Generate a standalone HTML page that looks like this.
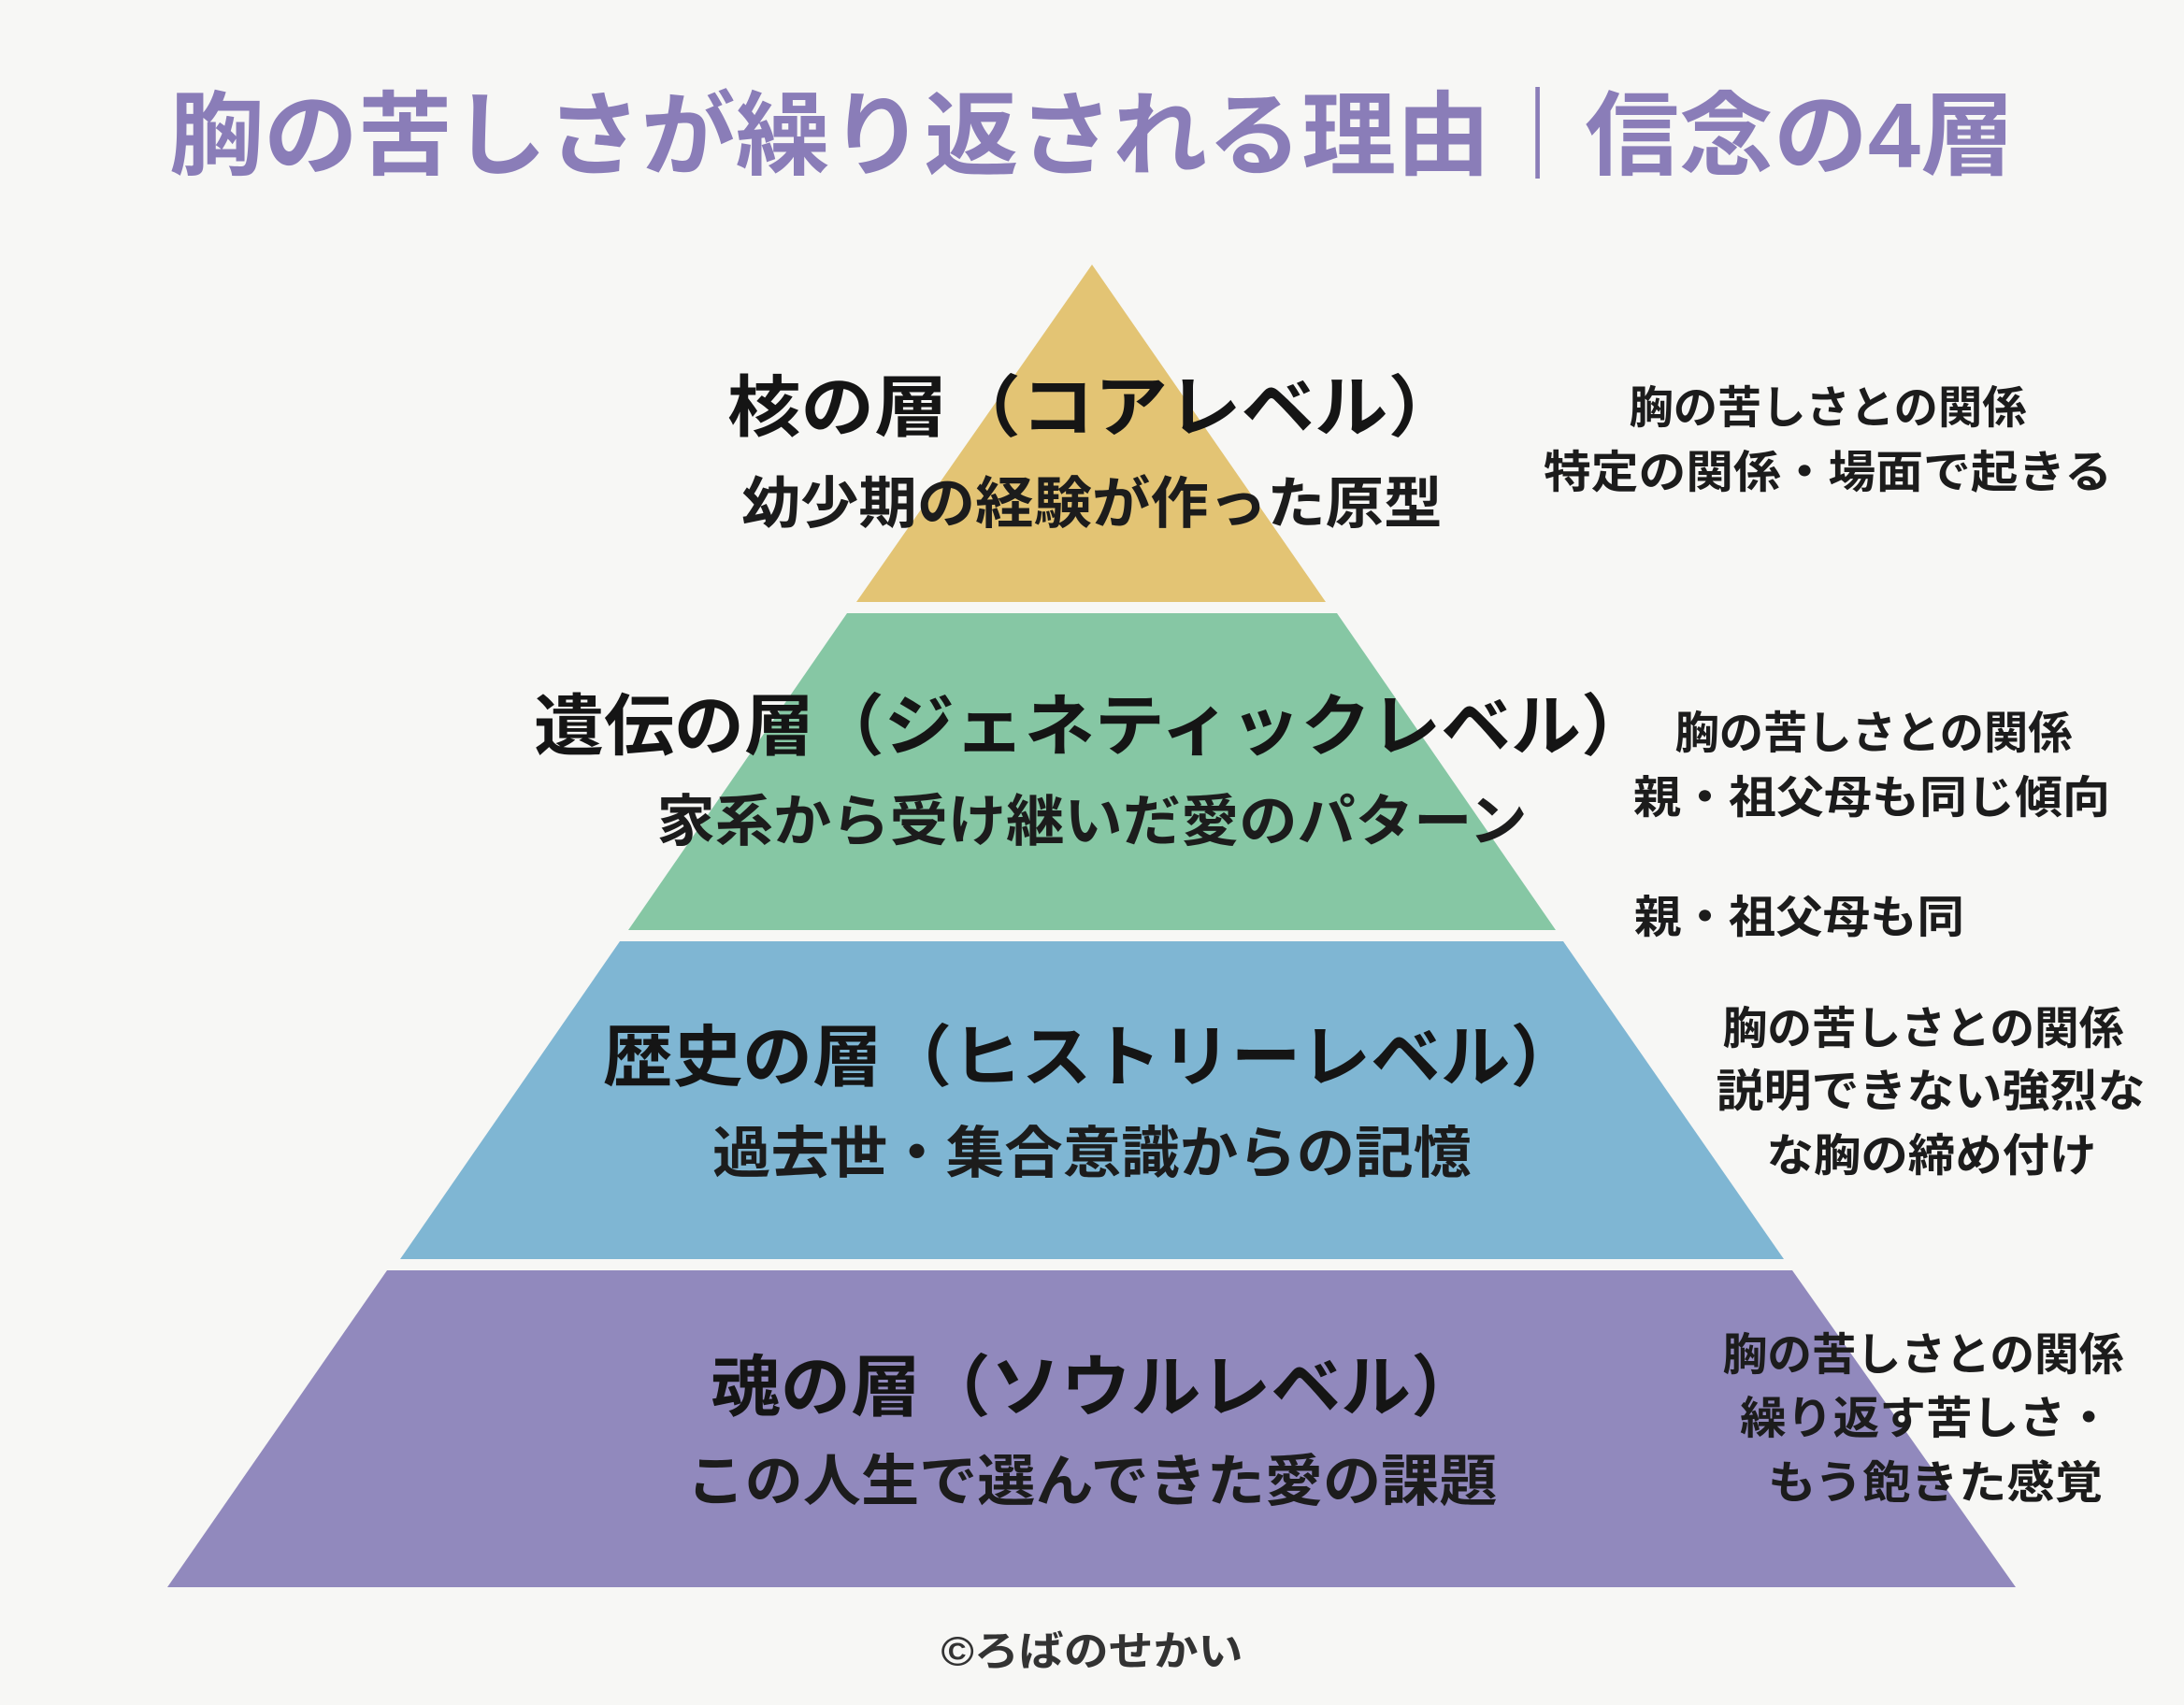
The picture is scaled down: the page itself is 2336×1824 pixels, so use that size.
<!DOCTYPE html>
<html><head><meta charset="utf-8"><style>
html,body{margin:0;padding:0;background:#f7f7f5;}
svg{display:block;}
text{font-family:"Liberation Sans","Noto Sans CJK JP",sans-serif;font-weight:bold;dominant-baseline:central;}
.h{fill:#151515;font-size:72px;}
.s{fill:#1c1c1c;font-size:60px;}
.r{fill:#1c1c1c;font-size:48px;}
</style></head><body>
<svg width="2336" height="1824" viewBox="0 0 2336 1824" xmlns="http://www.w3.org/2000/svg">
<rect width="2336" height="1824" fill="#f7f7f5"/>
<text x="1168" y="145" text-anchor="middle" fill="#8a7db8" style="font-size:98px" textLength="1974" lengthAdjust="spacingAndGlyphs">胸の苦しさが繰り返される理由｜信念の4層</text>
<polygon points="1168,283 1418,644 916,644" fill="#e3c474"/>
<polygon points="906,656 1430,656 1664,995 672,995" fill="#86c7a4"/>
<polygon points="663,1007 1672,1007 1908,1347 428,1347" fill="#7fb6d3"/>
<polygon points="414,1359 1917,1359 2156,1698 179,1698" fill="#9189bd"/>

<text class="h" x="778" y="437" textLength="785" lengthAdjust="spacingAndGlyphs">核の層（コアレベル）</text>
<text class="s" x="1168" y="539" text-anchor="middle" textLength="749" lengthAdjust="spacingAndGlyphs">幼少期の経験が作った原型</text>
<text class="r" x="1955" y="437" text-anchor="middle" textLength="425" lengthAdjust="spacingAndGlyphs">胸の苦しさとの関係</text>
<text class="r" x="1955" y="506" text-anchor="middle" textLength="608" lengthAdjust="spacingAndGlyphs">特定の関係・場面で起きる</text>

<text class="h" x="571" y="778" textLength="1195" lengthAdjust="spacingAndGlyphs">遺伝の層（ジェネティックレベル）</text>
<text class="s" x="1168" y="879" text-anchor="middle" textLength="931" lengthAdjust="spacingAndGlyphs">家系から受け継いだ愛のパターン</text>
<text class="r" x="2004" y="785" text-anchor="middle" textLength="425" lengthAdjust="spacingAndGlyphs">胸の苦しさとの関係</text>
<text class="r" x="2002" y="854" text-anchor="middle" textLength="510" lengthAdjust="spacingAndGlyphs">親・祖父母も同じ傾向</text>
<text class="r" x="1748" y="982" textLength="353" lengthAdjust="spacingAndGlyphs">親・祖父母も同</text>

<text class="h" x="645" y="1132" textLength="1045" lengthAdjust="spacingAndGlyphs">歴史の層（ヒストリーレベル）</text>
<text class="s" x="1168" y="1234" text-anchor="middle" textLength="812" lengthAdjust="spacingAndGlyphs">過去世・集合意識からの記憶</text>
<text class="r" x="2057" y="1101" text-anchor="middle" textLength="429" lengthAdjust="spacingAndGlyphs">胸の苦しさとの関係</text>
<text class="r" x="2065" y="1168" text-anchor="middle" textLength="459" lengthAdjust="spacingAndGlyphs">説明できない強烈な</text>
<text class="r" x="2066" y="1237" text-anchor="middle" textLength="353" lengthAdjust="spacingAndGlyphs">な胸の締め付け</text>

<text class="h" x="760" y="1485" textLength="824" lengthAdjust="spacingAndGlyphs">魂の層（ソウルレベル）</text>
<text class="s" x="1168" y="1585" text-anchor="middle" textLength="867" lengthAdjust="spacingAndGlyphs">この人生で選んできた愛の課題</text>
<text class="r" x="2057" y="1450" text-anchor="middle" textLength="429" lengthAdjust="spacingAndGlyphs">胸の苦しさとの関係</text>
<text class="r" x="2060" y="1518" text-anchor="middle" textLength="398" lengthAdjust="spacingAndGlyphs">繰り返す苦しさ・</text>
<text class="r" x="2070" y="1587" text-anchor="middle" textLength="358" lengthAdjust="spacingAndGlyphs">もう飽きた感覚</text>

<text x="1168" y="1767" text-anchor="middle" fill="#333" style="font-size:44px" textLength="323" lengthAdjust="spacingAndGlyphs">©ろばのせかい</text>
</svg>
</body></html>
